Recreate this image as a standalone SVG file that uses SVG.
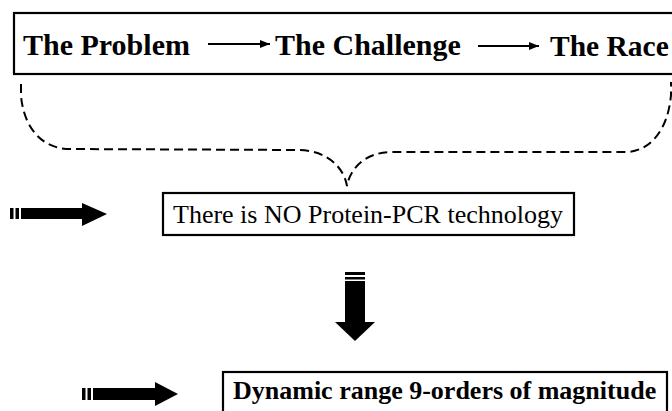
<svg xmlns="http://www.w3.org/2000/svg" width="672" height="411" viewBox="0 0 672 411">
  <style>
    .box { fill: #fff; stroke: #000; stroke-width: 2.2; }
    .bold { font-family: "Liberation Serif", "Times New Roman", serif; font-weight: bold; fill: #000; }
    .reg { font-family: "Liberation Serif", "Times New Roman", serif; fill: #000; }
    .thin { stroke: #000; stroke-width: 2; fill: none; }
    .brace { stroke: #000; stroke-width: 2; fill: none; stroke-dasharray: 9 5; }
    .solid { fill: #000; }
  </style>
  <defs>
    <marker id="tri" viewBox="0 0 10 8" refX="10" refY="4" markerWidth="10" markerHeight="8" orient="auto" markerUnits="userSpaceOnUse">
      <path d="M0,0 L10,4 L0,8 z" fill="#000"/>
    </marker>
  </defs>
  <rect width="672" height="411" fill="#fff"/>

  <!-- header strip: problem, challenge, race -->
  <g id="header">
    <rect class="box" x="14" y="13" width="670" height="61"/>
    <text class="bold" x="23" y="55" font-size="30">The Problem</text>
    <text class="bold" x="275" y="55" font-size="30">The Challenge</text>
    <text class="bold" x="550" y="56" font-size="29.5">The Race</text>
  </g>

  <g id="statement">
    <rect class="box" x="163" y="193" width="411" height="42"/>
    <text class="reg" x="173" y="223" font-size="26">There is NO Protein-PCR technology</text>
  </g>

  <g id="range">
    <rect class="box" x="223" y="372" width="444" height="50"/>
    <text class="bold" x="233" y="399" font-size="26">Dynamic range 9-orders of magnitude</text>
  </g>

  <g id="connectors">
    <!-- thin arrows inside the header -->
    <line class="thin" x1="208" y1="44" x2="270" y2="44" marker-end="url(#tri)"/>
    <line class="thin" x1="478" y1="46" x2="539" y2="46" marker-end="url(#tri)"/>

    <!-- dashed brace gathering the header -->
    <path class="brace" d="M21,84 L21,96 C24,128 42,149 70,149 L300,150 C328,151 344,168 347,186 C350,168 366,152 392,152 L625,152 C650,152 668,130 671,95 L671,82"/>

    <!-- block arrow pointing at the statement -->
    <g class="solid">
      <rect x="10" y="208" width="3.5" height="11"/>
      <rect x="15.5" y="208" width="3.5" height="11"/>
      <rect x="21" y="208" width="62" height="11"/>
      <path d="M82,203 L107,214 L82,226 z"/>
    </g>

    <!-- block arrow pointing down -->
    <g class="solid">
      <rect x="345" y="272" width="20" height="3"/>
      <rect x="345" y="277" width="20" height="2.5"/>
      <rect x="345" y="281" width="20" height="42"/>
      <path d="M335,322 L375,322 L355,341 z"/>
    </g>

    <!-- block arrow pointing at the range -->
    <g class="solid">
      <rect x="82" y="388" width="3.5" height="12"/>
      <rect x="87.5" y="388" width="3.5" height="12"/>
      <rect x="93" y="388" width="63" height="12"/>
      <path d="M155,382 L178,394 L155,406 z"/>
    </g>
  </g>
</svg>
